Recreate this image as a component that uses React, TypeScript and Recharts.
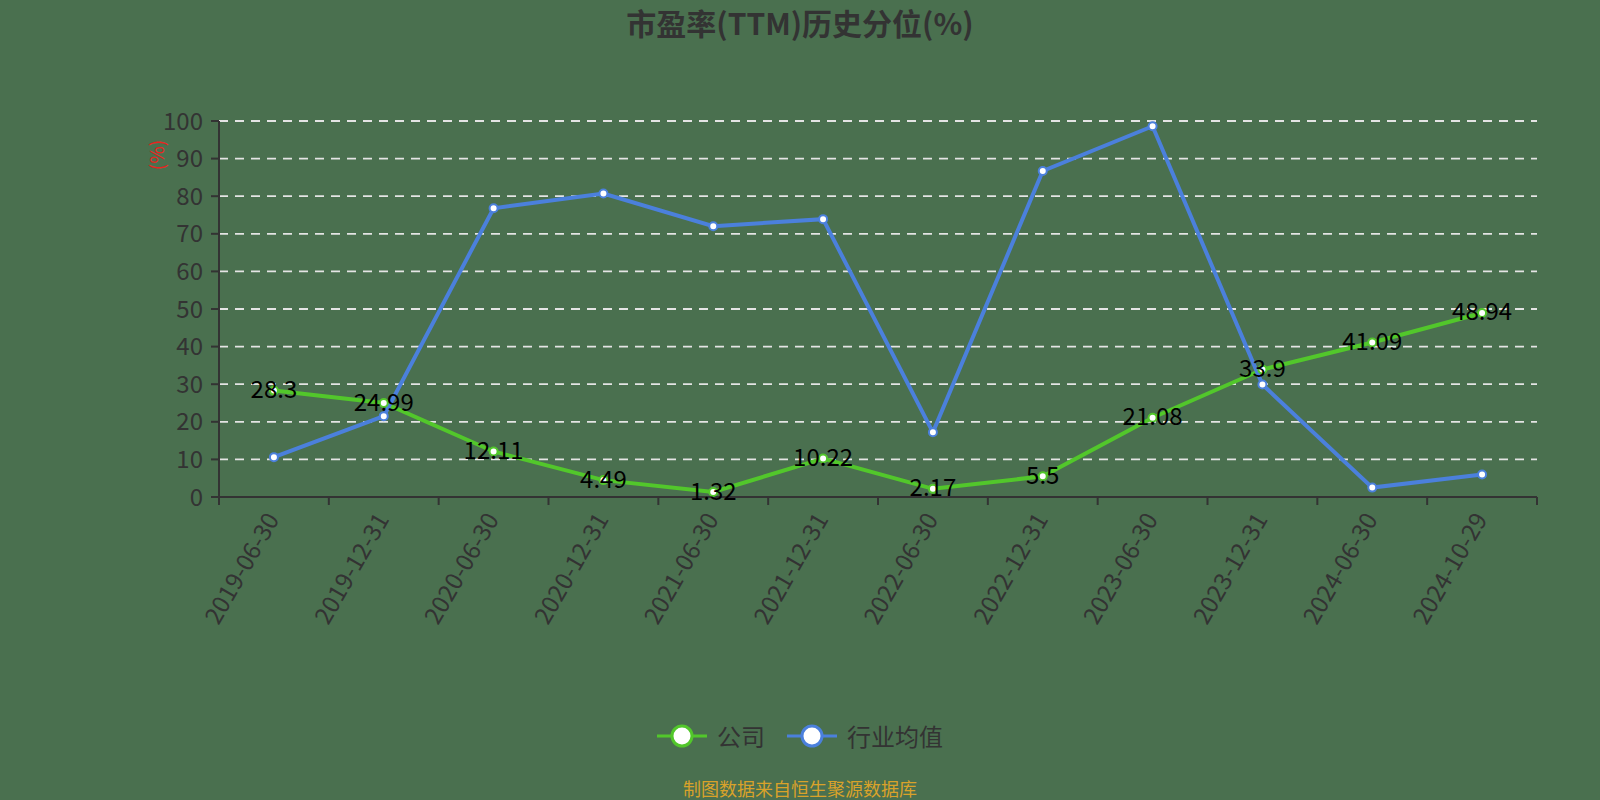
import React from 'react';
import { LineChart, Line, XAxis, YAxis, CartesianGrid, LabelList } from 'recharts';

const dates = [
  '2019-06-30', '2019-12-31', '2020-06-30', '2020-12-31', '2021-06-30', '2021-12-31',
  '2022-06-30', '2022-12-31', '2023-06-30', '2023-12-31', '2024-06-30', '2024-10-29',
];
const companyValues = [28.3, 24.99, 12.11, 4.49, 1.32, 10.22, 2.17, 5.5, 21.08, 33.9, 41.09, 48.94];
const industryValues = [10.6, 21.5, 76.8, 80.7, 72.0, 73.9, 17.2, 86.7, 98.6, 29.9, 2.5, 6.0];
const yTicks = [0, 10, 20, 30, 40, 50, 60, 70, 80, 90, 100];
const seriesNames = ['公司', '行业均值'];
const seriesColors = ['#52c72b', '#4b80dc'];
const titleText = '市盈率(TTM)历史分位(%)';
const unitText = '(%)';
const footerText = '制图数据来自恒生聚源数据库';

const FONT = "'Noto Sans CJK SC', 'Noto Sans', sans-serif";
const BG = '#4a704f';

const data = dates.map((d, i) => ({
  pos: i + 0.5,
  date: d,
  company: companyValues[i],
  industry: industryValues[i],
}));

// tick positions: integer = band boundary (tick line), half = band centre (label)
const xTicks: number[] = [];
for (let k = 0; k <= dates.length * 2; k++) xTicks.push(k / 2);

const XTick = (props: any) => {
  const { x, y, payload } = props;
  const v = payload.value as number;
  if (Number.isInteger(v)) {
    return <line x1={x} x2={x} y1={y} y2={y + 8} stroke="#333" strokeWidth={2} />;
  }
  const idx = Math.floor(v);
  const ax = x - 3;
  const ay = y + 17;
  return (
    <text
      x={ax}
      y={ay}
      transform={`rotate(-60 ${ax} ${ay})`}
      textAnchor="end"
      dominantBaseline="central"
      fontSize={24}
      fill="#333"
      fontFamily={FONT}
    >
      {dates[idx]}
    </text>
  );
};

const ValueLabel = (props: any) => {
  const { x, y, value } = props;
  return (
    <text
      x={x}
      y={y - 3}
      textAnchor="middle"
      dominantBaseline="central"
      fontSize={24}
      fill="#000"
      fontFamily={FONT}
    >
      {value}
    </text>
  );
};

const LegendIcon = ({ color }: { color: string }) => (
  <svg width={50} height={26} style={{ display: 'block' }}>
    <line x1={0} x2={50} y1={13} y2={13} stroke={color} strokeWidth={3} />
    <circle cx={25} cy={13} r={10} fill="#fff" stroke={color} strokeWidth={3} />
  </svg>
);

export default function App() {
  return (
    <div
      style={{
        position: 'absolute',
        left: 0,
        top: 0,
        width: 1600,
        height: 800,
        background: BG,
        fontFamily: FONT,
        overflow: 'hidden',
      }}
    >
      <div
        style={{
          position: 'absolute',
          top: 3,
          left: 0,
          width: 1600,
          textAlign: 'center',
          fontSize: 30,
          fontWeight: 'bold',
          color: '#333',
          lineHeight: '38px',
        }}
      >
        {titleText}
      </div>

      <LineChart
        width={1600}
        height={800}
        data={data}
        margin={{ top: 121, right: 63, left: 0, bottom: 163 }}
      >
        <CartesianGrid
          vertical={false}
          stroke="#e4e4e4"
          strokeWidth={1.8}
          strokeDasharray="9 7"
        />
        <XAxis
          dataKey="pos"
          type="number"
          domain={[0, dates.length]}
          ticks={xTicks}
          interval={0}
          allowDecimals
          height={140}
          axisLine={{ stroke: '#333', strokeWidth: 2 }}
          tickLine={false}
          tickSize={0}
          tickMargin={0}
          tick={<XTick />}
        />
        <YAxis
          type="number"
          domain={[0, 100]}
          ticks={yTicks}
          interval={0}
          width={219}
          axisLine={{ stroke: '#333', strokeWidth: 2 }}
          tickLine={{ stroke: '#333', strokeWidth: 2 }}
          tickSize={8}
          tickMargin={8}
          tick={{ fontSize: 24, fill: '#333', fontFamily: FONT }}
        />
        <Line
          type="linear"
          dataKey="company"
          name={seriesNames[0]}
          stroke={seriesColors[0]}
          strokeWidth={4}
          dot={{ r: 4, fill: '#fff', stroke: seriesColors[0], strokeWidth: 2 }}
          isAnimationActive={false}
        />
        <Line
          type="linear"
          dataKey="industry"
          name={seriesNames[1]}
          stroke={seriesColors[1]}
          strokeWidth={4}
          dot={{ r: 4, fill: '#fff', stroke: seriesColors[1], strokeWidth: 2 }}
          isAnimationActive={false}
        />
        <Line
          type="linear"
          dataKey="company"
          stroke="none"
          strokeOpacity={0}
          dot={false}
          activeDot={false}
          legendType="none"
          isAnimationActive={false}
        >
          <LabelList dataKey="company" content={<ValueLabel />} />
        </Line>
      </LineChart>

      <div
        style={{
          position: 'absolute',
          left: 156,
          top: 155,
          transform: 'translate(-50%, -50%) rotate(-90deg)',
          color: '#e8251f',
          fontSize: 19,
          lineHeight: '20px',
          whiteSpace: 'nowrap',
        }}
      >
        {unitText}
      </div>

      <div
        style={{
          position: 'absolute',
          top: 720,
          left: 0,
          width: 1600,
          display: 'flex',
          justifyContent: 'center',
          alignItems: 'center',
          gap: 22,
          height: 32,
        }}
      >
        {seriesNames.map((n, i) => (
          <div key={n} style={{ display: 'flex', alignItems: 'center', gap: 10 }}>
            <LegendIcon color={seriesColors[i]} />
            <span style={{ fontSize: 24, color: '#333', lineHeight: '32px' }}>{n}</span>
          </div>
        ))}
      </div>

      <div
        style={{
          position: 'absolute',
          top: 776,
          left: 0,
          width: 1600,
          textAlign: 'center',
          fontSize: 18,
          color: '#d9a22a',
          lineHeight: '24px',
        }}
      >
        {footerText}
      </div>
    </div>
  );
}
